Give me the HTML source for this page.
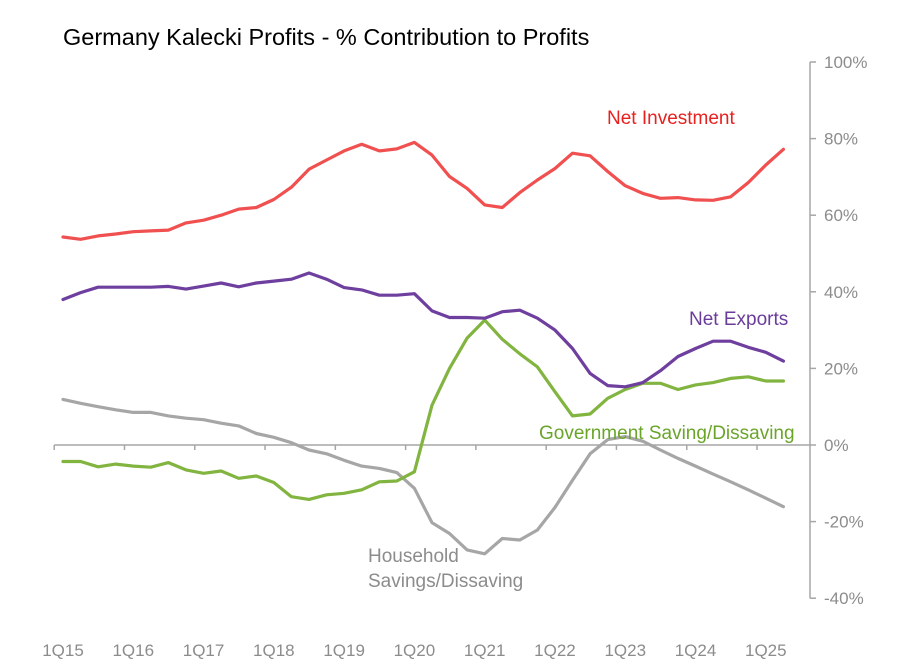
<!DOCTYPE html>
<html><head><meta charset="utf-8">
<style>
body{margin:0;background:#fff;}
svg{display:block;font-family:"Liberation Sans",sans-serif;}
</style></head>
<body>
<svg id="chart" width="908" height="659" viewBox="0 0 908 659">
<text x="63" y="45" font-size="23.5" fill="#000">Germany Kalecki Profits - % Contribution to Profits</text>
<g id="axes"></g>
<g id="series"></g>
<text x="607" y="124" font-size="19" fill="#e8201e">Net Investment</text>
<text x="689" y="325" font-size="19" fill="#6a3d9a">Net Exports</text>
<text x="539" y="439" font-size="19" fill="#6aa52a">Government Saving/Dissaving</text>
<text x="368" y="562" font-size="19" fill="#8c8c8c">Household</text>
<text x="368" y="587" font-size="19" fill="#8c8c8c">Savings/Dissaving</text>
</svg>
<script>
const yTicks=[100,80,60,40,20,0,-20,-40];
const xLabels=["1Q15","1Q16","1Q17","1Q18","1Q19","1Q20","1Q21","1Q22","1Q23","1Q24","1Q25"];
const netInvestment=[54.3,53.7,54.6,55.1,55.7,55.9,56.1,58.0,58.7,60.0,61.6,62.0,64.1,67.3,72.0,74.4,76.8,78.5,76.8,77.3,79.0,75.7,70.1,67.0,62.7,62.0,65.9,69.2,72.2,76.2,75.5,71.4,67.7,65.7,64.4,64.6,64.0,63.9,64.8,68.5,73.1,77.2];
const netExports=[38.0,39.8,41.2,41.2,41.2,41.2,41.4,40.7,41.5,42.3,41.3,42.3,42.8,43.3,44.9,43.3,41.1,40.5,39.1,39.1,39.5,35.0,33.3,33.3,33.1,34.8,35.2,33.1,30.0,25.2,18.7,15.5,15.2,16.3,19.4,23.1,25.2,27.1,27.1,25.5,24.2,21.9];
const government=[-4.3,-4.3,-5.7,-5.0,-5.5,-5.8,-4.6,-6.5,-7.4,-6.8,-8.7,-8.1,-9.8,-13.5,-14.2,-13.0,-12.6,-11.7,-9.6,-9.4,-7.0,10.4,20.0,27.9,32.6,27.6,23.8,20.4,13.9,7.6,8.1,12.2,14.5,16.1,16.1,14.5,15.7,16.3,17.4,17.8,16.7,16.7];
const household=[11.9,10.9,10.0,9.2,8.5,8.5,7.6,7.0,6.6,5.7,5.0,3.0,2.0,0.6,-1.3,-2.3,-4.0,-5.5,-6.1,-7.2,-11.3,-20.3,-23.1,-27.4,-28.4,-24.4,-24.8,-22.2,-16.3,-9.2,-2.3,1.4,2.2,1.0,-1.3,-3.5,-5.5,-7.6,-9.6,-11.7,-13.9,-16.1];
const NS="http://www.w3.org/2000/svg";
const X0=63,DX=17.57,Y0=445,PPU=3.83;
function xs(i){return X0+DX*i;}
function ys(v){return Y0-v*PPU;}
const axes=document.getElementById('axes');
function mk(tag,attrs,parent){const e=document.createElementNS(NS,tag);for(const k in attrs)e.setAttribute(k,attrs[k]);parent.appendChild(e);return e;}
const AX=810;
let yl=mk('line',{x1:AX,y1:ys(100),x2:AX,y2:ys(-40),stroke:'#a6a6a6','stroke-width':1.5},axes);


yTicks.forEach(v=>{
  const t=mk('line',{x1:AX,y1:ys(v),x2:AX+6,y2:ys(v),stroke:'#a6a6a6','stroke-width':1.5},axes);
  
  
  const tx=mk('text',{x:AX+14,y:ys(v)+6,'font-size':17,fill:'#8c8c8c'},axes);
  tx.textContent=v+'%';
  
  
});
let xl=mk('line',{x1:X0-DX/2,y1:Y0,x2:AX,y2:Y0,stroke:'#a6a6a6','stroke-width':1.5},axes);


xLabels.forEach((lab,k)=>{
  const tx0=X0-DX/2+DX*4*k;
  const t=mk('line',{x1:tx0,y1:Y0,x2:tx0,y2:Y0+5,stroke:'#a6a6a6','stroke-width':1.5},axes);
  
  
  const tx=mk('text',{x:xs(4*k),y:656,'font-size':17,fill:'#8c8c8c','text-anchor':'middle'},axes);
  tx.textContent=lab;
  
  
});
const series=document.getElementById('series');
function line(data,color,name){
  const d=data.map((v,i)=>(i?'L':'M')+xs(i).toFixed(1)+','+ys(v).toFixed(1)).join('');
  const p=mk('path',{d:d,fill:'none',stroke:color,'stroke-width':3.2,'stroke-linejoin':'round','stroke-linecap':'round'},series);
  
  
}
line(household,'#a6a6a6','household-savings-line');
line(government,'#82b440','government-saving-line');
line(netExports,'#6e3f9e','net-exports-line');
line(netInvestment,'#f0504f','net-investment-line');
</script>
</body></html>
